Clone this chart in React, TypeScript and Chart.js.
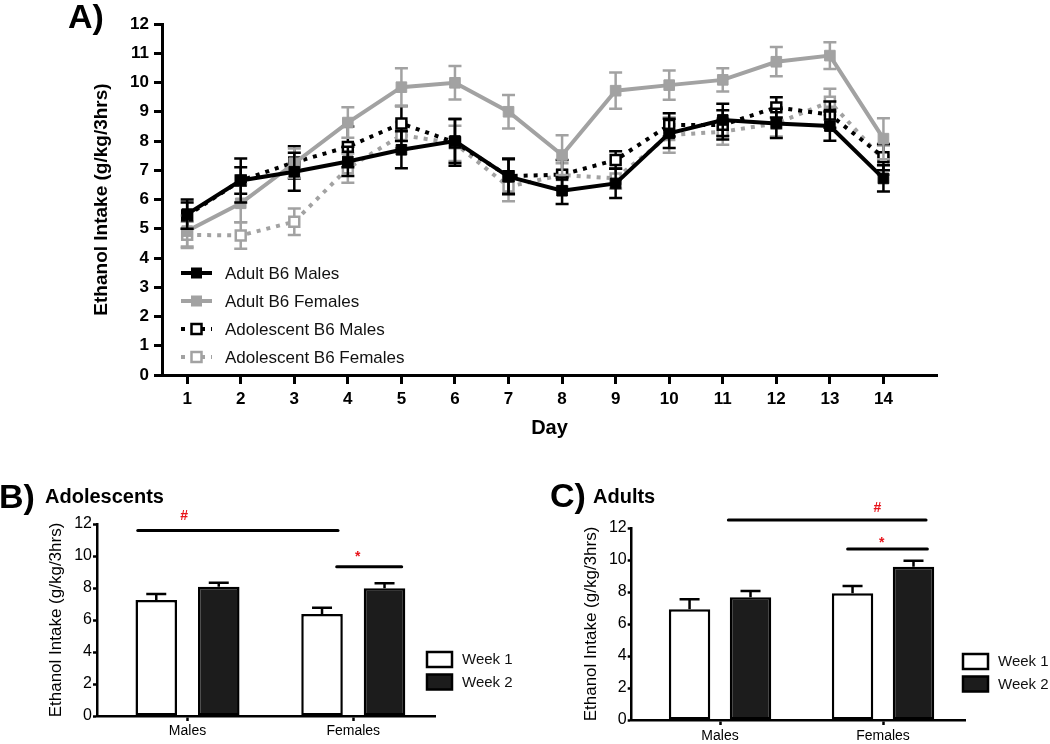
import React, { useEffect, useRef } from 'react';
import { Chart, registerables } from 'chart.js';

Chart.register(...registerables);

const FONT = "'Liberation Sans', Arial, Helvetica, sans-serif";
const GRAY = '#a2a2a2';

// ---------- Panel A data ----------
const days = [1, 2, 3, 4, 5, 6, 7, 8, 9, 10, 11, 12, 13, 14];
const seriesLabels = ['Adult B6 Males', 'Adult B6 Females', 'Adolescent B6 Males', 'Adolescent B6 Females'];
const adultMales = [5.5, 6.65, 6.95, 7.3, 7.7, 8.0, 6.78, 6.3, 6.55, 8.26, 8.72, 8.6, 8.51, 6.72];
const adultMalesSem = [0.5, 0.75, 0.65, 0.5, 0.63, 0.75, 0.6, 0.45, 0.5, 0.5, 0.55, 0.5, 0.5, 0.45];
const adultFemales = [4.92, 5.87, 7.24, 8.63, 9.84, 9.99, 9.0, 7.52, 9.72, 9.91, 10.09, 10.71, 10.92, 8.08];
const adultFemalesSem = [0.53, 0.65, 0.5, 0.52, 0.65, 0.57, 0.57, 0.68, 0.62, 0.5, 0.4, 0.5, 0.46, 0.7];
const adolMales = [5.45, 6.65, 7.27, 7.8, 8.6, 7.95, 6.8, 6.85, 7.35, 8.55, 8.55, 9.15, 8.9, 7.45];
const adolMalesSem = [0.45, 0.45, 0.55, 0.7, 0.6, 0.8, 0.6, 0.5, 0.3, 0.4, 0.5, 0.35, 0.45, 0.45];
const adolFemales = [4.79, 4.77, 5.24, 7.07, 8.2, 7.92, 6.44, 6.84, 6.72, 8.2, 8.32, 8.6, 9.34, 7.35];
const adolFemalesSem = [0.45, 0.45, 0.45, 0.5, 0.45, 0.6, 0.5, 0.4, 0.35, 0.6, 0.45, 0.45, 0.45, 0.5];

// ---------- Panels B / C data ----------
const groups = ['Males', 'Females'];
const weekLabels = ['Week 1', 'Week 2'];
const adolWeek1 = [7.25, 6.37];
const adolWeek1Sem = [0.37, 0.4];
const adolWeek2 = [8.08, 7.98];
const adolWeek2Sem = [0.25, 0.31];
const adultWeek1 = [6.92, 7.92];
const adultWeek1Sem = [0.62, 0.46];
const adultWeek2 = [7.67, 9.58];
const adultWeek2Sem = [0.39, 0.38];

// significance brackets (x in group units: Males = 1, Females = 2)
const adolSigStart = [0.7, 1.9];
const adolSigEnd = [1.908, 2.292];
const adolSigY = [11.6, 9.33];
const adolSigMarkX = [0.979, 2.027];
const adolSigMarkY = [12.56, 10.17];
const adolSigMarks = ['#', '*'];
const adultSigStart = [1.051, 1.783];
const adultSigEnd = [2.264, 2.272];
const adultSigY = [12.5, 10.69];
const adultSigMarkX = [1.965, 1.992];
const adultSigMarkY = [13.3, 11.31];
const adultSigMarks = ['#', '*'];

const toXY = (vals: number[], xs: number[]) => vals.map((v, i) => ({ x: xs[i], y: v }));

const lineErrorBars = {
  id: 'lineErrorBars',
  beforeDatasetDraw(chart: any, args: any) {
    const ds = chart.data.datasets[args.index];
    const meta = chart.getDatasetMeta(args.index);
    const ys = chart.scales.y;
    const ctx = chart.ctx;
    ctx.save();
    ctx.strokeStyle = ds.borderColor;
    ctx.lineWidth = 2.5;
    ctx.setLineDash([]);
    meta.data.forEach((pt: any, i: number) => {
      const v = ds.data[i].y;
      const s = ds.sem[i];
      const top = ys.getPixelForValue(v + s);
      const bot = ys.getPixelForValue(v - s);
      const x = pt.x;
      ctx.beginPath();
      ctx.moveTo(x, top);
      ctx.lineTo(x, bot);
      ctx.moveTo(x - 6.5, top);
      ctx.lineTo(x + 6.5, top);
      ctx.moveTo(x - 6.5, bot);
      ctx.lineTo(x + 6.5, bot);
      ctx.stroke();
    });
    ctx.restore();
  },
};

const legendA = {
  id: 'legendA',
  afterDraw(chart: any) {
    const ctx = chart.ctx;
    chart.data.datasets.forEach((ds: any, i: number) => {
      const y = 273 + i * 28;
      ctx.save();
      ctx.strokeStyle = ds.borderColor;
      ctx.lineWidth = ds.borderWidth;
      ctx.setLineDash(ds.borderDash || []);
      ctx.beginPath();
      ctx.moveTo(181, y);
      ctx.lineTo(212, y);
      ctx.stroke();
      ctx.setLineDash([]);
      const s = 10;
      ctx.fillStyle = ds.pointBackgroundColor;
      ctx.fillRect(196.5 - s / 2, y - s / 2, s, s);
      ctx.lineWidth = ds.pointBorderWidth;
      ctx.strokeStyle = ds.pointBorderColor;
      ctx.strokeRect(196.5 - s / 2, y - s / 2, s, s);
      ctx.fillStyle = '#111';
      ctx.font = `17px ${FONT}`;
      ctx.textBaseline = 'middle';
      ctx.textAlign = 'left';
      ctx.fillText(ds.label, 225, y + 1);
      ctx.restore();
    });
  },
};

const barExtras = {
  id: 'barExtras',
  afterDraw(chart: any) {
    const opts = chart.options.plugins.barExtras;
    const ctx = chart.ctx;
    const xs = chart.scales.x;
    const ys = chart.scales.y;
    ctx.save();
    // error bars (upper only)
    chart.data.datasets.forEach((ds: any, di: number) => {
      const meta = chart.getDatasetMeta(di);
      meta.data.forEach((bar: any, i: number) => {
        const v = ds.data[i].y;
        const top = ys.getPixelForValue(v + ds.sem[i]);
        const base = ys.getPixelForValue(v);
        ctx.strokeStyle = '#000';
        ctx.lineWidth = 2.5;
        ctx.beginPath();
        ctx.moveTo(bar.x, base);
        ctx.lineTo(bar.x, top);
        ctx.moveTo(bar.x - 10, top);
        ctx.lineTo(bar.x + 10, top);
        ctx.stroke();
      });
    });
    // significance lines
    opts.start.forEach((s: number, i: number) => {
      const y = ys.getPixelForValue(opts.y[i]);
      ctx.strokeStyle = '#000';
      ctx.lineWidth = 3;
      ctx.lineCap = 'round';
      ctx.beginPath();
      ctx.moveTo(xs.getPixelForValue(s), y);
      ctx.lineTo(xs.getPixelForValue(opts.end[i]), y);
      ctx.stroke();
      const mark = opts.marks[i];
      const size = 14;
      ctx.fillStyle = '#e8141b';
      ctx.font = `bold ${size}px ${FONT}`;
      ctx.textAlign = 'center';
      ctx.textBaseline = 'alphabetic';
      const my = ys.getPixelForValue(opts.markY[i]);
      const off = mark === '*' ? 0.58 * size : 0.36 * size;
      ctx.fillText(mark, xs.getPixelForValue(opts.markX[i]), my + off);
    });
    // legend
    chart.data.datasets.forEach((ds: any, i: number) => {
      const bx = opts.legendX;
      const by = opts.legendY + i * 22.5;
      ctx.fillStyle = ds.backgroundColor;
      ctx.fillRect(bx, by, 25, 15);
      ctx.strokeStyle = '#000';
      ctx.lineWidth = 2.5;
      ctx.strokeRect(bx, by, 25, 15);
      ctx.fillStyle = '#111';
      ctx.font = `15px ${FONT}`;
      ctx.textAlign = 'left';
      ctx.textBaseline = 'middle';
      ctx.fillText(ds.label, bx + 35, by + 8);
    });
    ctx.restore();
  },
};

function lineConfig(): any {
  const mk = (label: string, vals: number[], sem: number[], color: string, dotted: boolean) => ({
    label,
    data: toXY(vals, days),
    sem,
    borderColor: color,
    backgroundColor: color,
    borderWidth: 4,
    borderDash: dotted ? [4, 6] : [],
    borderCapStyle: 'butt',
    pointStyle: 'rect',
    pointRadius: dotted ? 7 : 7.5,
    pointBackgroundColor: dotted ? '#fff' : color,
    pointBorderColor: color,
    pointBorderWidth: dotted ? 2.5 : 1,
    tension: 0,
  });
  return {
    type: 'line',
    data: {
      datasets: [
        mk(seriesLabels[0], adultMales, adultMalesSem, '#000', false),
        mk(seriesLabels[1], adultFemales, adultFemalesSem, GRAY, false),
        mk(seriesLabels[2], adolMales, adolMalesSem, '#000', true),
        mk(seriesLabels[3], adolFemales, adolFemalesSem, GRAY, true),
      ],
    },
    options: {
      responsive: false,
      animation: false,
      layout: { padding: { left: 0, top: 24, right: 113, bottom: 0 } },
      plugins: { legend: { display: false }, tooltip: { enabled: false } },
      scales: {
        x: {
          type: 'linear',
          min: 0.53,
          max: 15,
          afterBuildTicks: (scale: any) => {
            scale.ticks = days.map((d) => ({ value: d }));
          },
          afterFit: (scale: any) => {
            scale.height = 75;
          },
          ticks: { color: '#000', font: { family: FONT, size: 17, weight: 'bold' }, padding: 5, autoSkip: false, maxRotation: 0 },
          grid: { display: true, drawOnChartArea: false, drawTicks: true, tickLength: 9, tickWidth: 3, tickColor: '#000' },
          border: { display: true, color: '#000', width: 3 },
          title: { display: true, text: 'Day', color: '#000', font: { family: FONT, size: 20, weight: 'bold' }, padding: { top: 0, bottom: 10 } },
        },
        y: {
          min: 0,
          max: 12,
          afterFit: (scale: any) => {
            scale.width = 162;
          },
          ticks: { stepSize: 1, color: '#000', font: { family: FONT, size: 17, weight: 'bold' }, padding: 5 },
          grid: { display: true, drawOnChartArea: false, drawTicks: true, tickLength: 8, tickWidth: 3, tickColor: '#000' },
          border: { display: true, color: '#000', width: 3 },
          title: { display: true, text: 'Ethanol Intake (g/kg/3hrs)', color: '#000', font: { family: FONT, size: 19, weight: 'bold' }, padding: { top: 90, bottom: 0 } },
        },
      },
    },
    plugins: [lineErrorBars, legendA],
  };
}

function barConfig(w1: number[], w1s: number[], w2: number[], w2s: number[], sig: any, geom: any): any {
  const xs = [1, 2];
  return {
    type: 'bar',
    data: {
      datasets: [
        { label: weekLabels[0], data: toXY(w1, xs), sem: w1s, backgroundColor: '#ffffff', borderColor: '#000', borderWidth: 2.5, borderSkipped: false },
        { label: weekLabels[1], data: toXY(w2, xs), sem: w2s, backgroundColor: '#1c1c1c', borderColor: '#000', borderWidth: 2.5, borderSkipped: false },
      ],
    },
    options: {
      responsive: false,
      animation: false,
      categoryPercentage: geom.cp,
      barPercentage: geom.bp,
      layout: { padding: { left: 0, top: geom.top, right: geom.right, bottom: 0 } },
      plugins: {
        legend: { display: false },
        tooltip: { enabled: false },
        barExtras: { ...sig, legendX: geom.legendX, legendY: geom.legendY },
      },
      scales: {
        x: {
          type: 'linear',
          offset: false,
          min: geom.xmin,
          max: geom.xmax,
          afterBuildTicks: (scale: any) => {
            scale.ticks = xs.map((v) => ({ value: v }));
          },
          afterFit: (scale: any) => {
            scale.height = geom.xh;
          },
          ticks: { color: '#000', font: { family: FONT, size: 14 }, padding: geom.xpad, callback: (v: number) => groups[v - 1] },
          grid: { display: true, offset: false, drawOnChartArea: false, drawTicks: true, tickLength: 5, tickWidth: 2.5, tickColor: '#000' },
          border: { display: true, color: '#000', width: 2.5 },
        },
        y: {
          min: 0,
          max: 12,
          afterFit: (scale: any) => {
            scale.width = geom.yw;
          },
          ticks: { stepSize: 2, color: '#000', font: { family: FONT, size: 16 }, padding: 1 },
          grid: { display: true, drawOnChartArea: false, drawTicks: true, tickLength: 4, tickWidth: 2.5, tickColor: '#000' },
          border: { display: true, color: '#000', width: 2.5 },
          title: { display: true, text: 'Ethanol Intake (g/kg/3hrs)', color: '#000', font: { family: FONT, size: 17 }, padding: { top: geom.ytitlePad, bottom: 0 } },
        },
      },
    },
    plugins: [barExtras],
  };
}

const textStyle = (size: number): React.CSSProperties => ({
  position: 'absolute',
  fontFamily: FONT,
  fontWeight: 'bold',
  fontSize: size,
  lineHeight: 1,
  color: '#000',
  whiteSpace: 'nowrap',
});

export default function App() {
  const refA = useRef<HTMLCanvasElement>(null);
  const refB = useRef<HTMLCanvasElement>(null);
  const refC = useRef<HTMLCanvasElement>(null);

  useEffect(() => {
    const charts: Chart[] = [];
    charts.push(new Chart(refA.current as HTMLCanvasElement, lineConfig()));
    charts.push(
      new Chart(
        refB.current as HTMLCanvasElement,
        barConfig(
          adolWeek1, adolWeek1Sem, adolWeek2, adolWeek2Sem,
          { start: adolSigStart, end: adolSigEnd, y: adolSigY, markX: adolSigMarkX, markY: adolSigMarkY, marks: adolSigMarks },
          { top: 54, right: 85, yw: 97, xh: 28, xpad: 2, xmin: 0.454, xmax: 2.493, ytitlePad: 46.5, legendX: 427, legendY: 182, cp: 0.754, bp: 0.665 }
        )
      )
    );
    charts.push(
      new Chart(
        refC.current as HTMLCanvasElement,
        barConfig(
          adultWeek1, adultWeek1Sem, adultWeek2, adultWeek2Sem,
          { start: adultSigStart, end: adultSigEnd, y: adultSigY, markX: adultSigMarkX, markY: adultSigMarkY, marks: adultSigMarks },
          { top: 58, right: 85, yw: 111.7, xh: 24, xpad: 3, xmin: 0.458, xmax: 2.503, ytitlePad: 61, legendX: 443, legendY: 184, cp: 0.748, bp: 0.68 }
        )
      )
    );
    return () => charts.forEach((c) => c.destroy());
  }, []);

  return (
    <div style={{ position: 'absolute', left: 0, top: 0, width: 1050, height: 744, background: '#fff', overflow: 'hidden' }}>
      <canvas ref={refA} width={1050} height={450} style={{ position: 'absolute', left: 0, top: 0, width: 1050, height: 450 }} />
      <canvas ref={refB} width={520} height={274} style={{ position: 'absolute', left: 0, top: 470, width: 520, height: 274 }} />
      <canvas ref={refC} width={530} height={274} style={{ position: 'absolute', left: 520, top: 470, width: 530, height: 274 }} />
      <div style={{ ...textStyle(34), left: 68, top: -1 }}>A)</div>
      <div style={{ ...textStyle(34), left: -1, top: 479 }}>B)</div>
      <div style={{ ...textStyle(20), left: 45, top: 486 }}>Adolescents</div>
      <div style={{ ...textStyle(34), left: 550, top: 478 }}>C)</div>
      <div style={{ ...textStyle(20), left: 593, top: 486 }}>Adults</div>
    </div>
  );
}
